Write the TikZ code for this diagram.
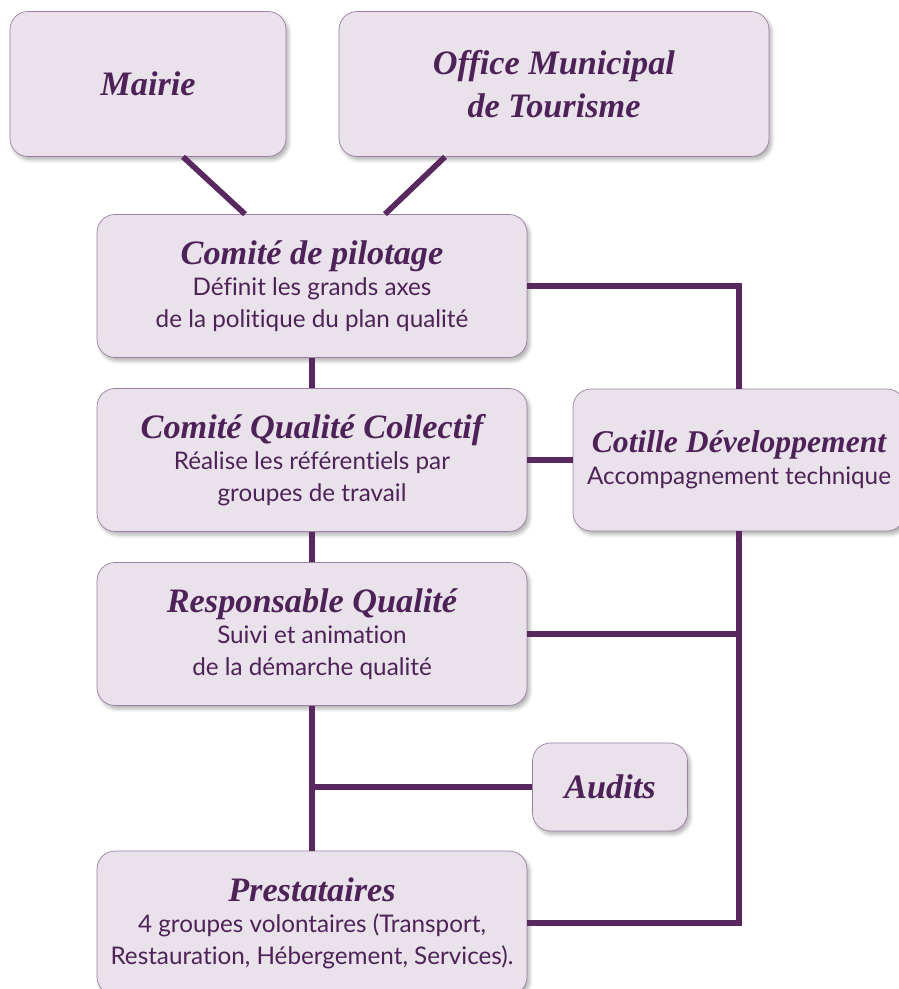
\documentclass[tikz,border=0pt]{standalone}
\usepackage{fontspec}
\setmainfont{Lato}[Ligatures=NoCommon]
\newfontfamily\headfont{Liberation Serif}
\usepackage{xcolor}
\usepackage{tikz}
\usetikzlibrary{positioning, calc, shadows.blur}
\definecolor{linkcolor}{HTML}{58285F}
\definecolor{textcolor}{HTML}{4E2258}
\definecolor{boxfill}{HTML}{E9E2EA}
\definecolor{boxdraw}{HTML}{9C7FA4}
\newcommand{\boxtitle}[2][19.5]{{\headfont\bfseries\itshape\fontsize{#1}{21}\selectfont #2}}

\begin{document}
\begin{tikzpicture}[
    x=0.02cm, y=-0.02cm,
    box/.style={rectangle, draw=boxdraw, thin, fill=boxfill, rounded corners=0.36cm, align=center, text=textcolor,
        font=\fontsize{13.8}{18}\selectfont,
        blur shadow={shadow xshift=1.5pt, shadow yshift=-2pt, shadow blur steps=6, shadow opacity=30}},
    wide/.style={box, minimum width=8.6cm, minimum height=2.86cm},
    ttl/.style={font=\headfont\bfseries\itshape\fontsize{19.5}{24.5}\selectfont},
    link/.style={line width=3.2pt, linkcolor}
]
\useasboundingbox (0,0) rectangle (898,989);

% -- TOP: Mairie / Office --
\node[box, ttl, minimum width=5.52cm, minimum height=2.9cm] (mairie) at (148,84) {Mairie};
\node[box, ttl, minimum width=8.6cm, minimum height=2.9cm] (office) at (554,84) {Office Municipal\\de Tourisme};

% -- MIDDLE COLUMN --
\node[wide] (pilot) at (312,286) {\boxtitle{Comité de pilotage}\\Définit les grands axes\\de la politique du plan qualité};
\node[wide] (cqc) at (312,460) {\boxtitle{Comité Qualité Collectif}\\Réalise les référentiels par\\groupes de travail};
\node[wide] (resp) at (312,634) {\boxtitle{Responsable Qualité}\\Suivi et animation\\de la démarche qualité};
\node[wide, minimum height=2.88cm] (prest) at (312,923) {\boxtitle{Prestataires}\\4 groupes volontaires (Transport,\\Restauration, Hébergement, Services).};

% -- RIGHT SIDE --
\node[box, minimum width=6.64cm, minimum height=2.84cm] (cotille) at (739,460) {\boxtitle[18]{Cotille Développement}\\Accompagnement technique};
\node[box, ttl, minimum width=3.1cm, minimum height=1.76cm] (audits) at (610,787) {Audits};

% -- LINKS --
\draw[link] ([xshift=0.7cm]mairie.south) -- ([xshift=-1.34cm]pilot.north);
\draw[link] ([xshift=-2.18cm]office.south) -- ([xshift=1.46cm]pilot.north);
\draw[link] (pilot.south) -- (cqc.north);
\draw[link] (cqc.south) -- (resp.north);
\draw[link] (resp.south) -- (prest.north);
\draw[link] (audits.west) -- (audits.west -| resp.south);
\draw[link] (pilot.east) -| (cotille.north);
\draw[link] (cqc.east) -- (cotille.west);
\draw[link] (resp.east) -- (resp.east -| cotille.south);
\draw[link] (cotille.south) |- (prest.east);

\end{tikzpicture}
\end{document}
